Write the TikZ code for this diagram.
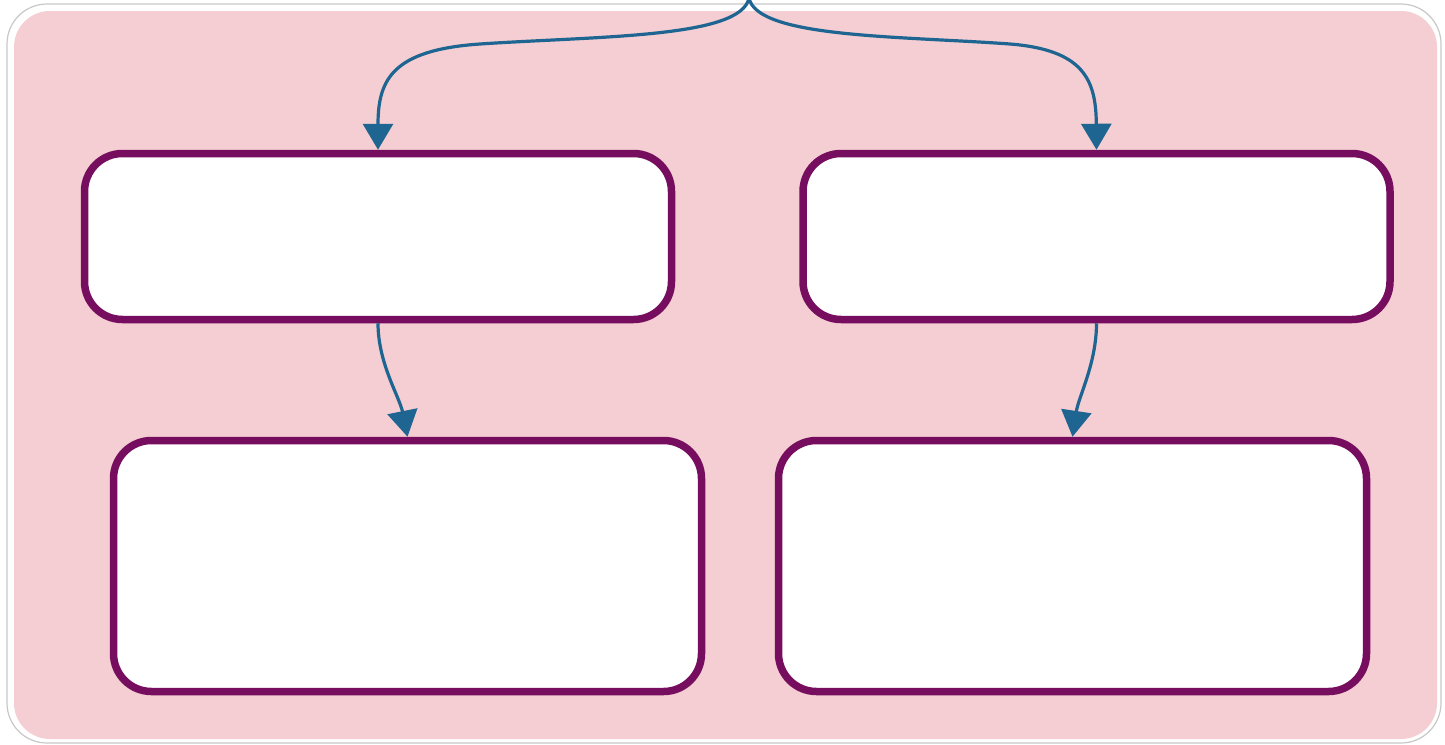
\documentclass[tikz,border=0pt]{standalone}
\usetikzlibrary{arrows.meta}
\definecolor{panelpink}{HTML}{F4CED2}
\definecolor{boxpurple}{HTML}{760D5E}
\definecolor{flowblue}{HTML}{1E6592}
\definecolor{framegray}{HTML}{C8C8C8}
\tikzset{
  box/.style={draw=boxpurple, fill=white, line width=7.5pt, rounded corners=38pt, inner sep=0pt},
  flow/.style={draw=flowblue, line width=3.2pt, -{Triangle[width=30pt,length=26pt]}},
}
\begin{document}
\begin{tikzpicture}[x=1pt,y=-1pt]
  \useasboundingbox (0,0) rectangle (1445,744);
  % outer frame and pink panel
  \draw[framegray, fill=white, line width=1.2pt, rounded corners=40pt] (7,4) rectangle (1441,743);
  \fill[panelpink, rounded corners=36pt] (14,11) rectangle (1437,739);

  % boxes
  \node[box, minimum width=587pt, minimum height=166pt] (b1) at (378,236.5) {};
  \node[box, minimum width=587pt, minimum height=166pt] (b2) at (1096.5,236.5) {};
  \node[box, minimum width=588pt, minimum height=251pt] (b3) at (407.5,566) {};
  \node[box, minimum width=588pt, minimum height=251pt] (b4) at (1072.5,566) {};

  % split point at the top edge
  \coordinate (top) at (749,-2);

  % branching connectors
  \draw[flow] (top) .. controls (741,38) and (600,36) .. (480,44)
                    .. controls (392,50) and (378,80) .. (b1.north);
  \draw[flow] (top) .. controls (757,38) and (900,36) .. (1010,44)
                    .. controls (1084,50) and (1096,80) .. (b2.north);

  % downward connectors
  \draw[flow] (b1.south) .. controls +(0,40) and +(-8,-40) .. (b3.north);
  \draw[flow] (b2.south) .. controls +(0,40) and +(6,-40) .. (b4.north);
\end{tikzpicture}
\end{document}
